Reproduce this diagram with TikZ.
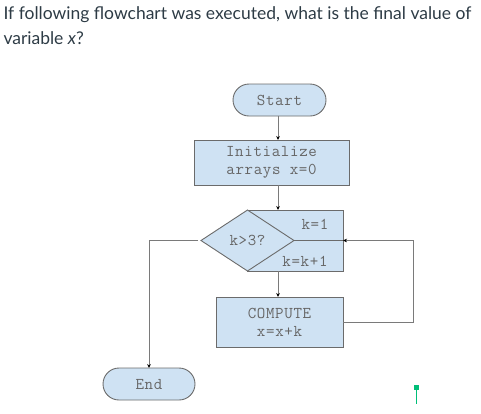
\documentclass[tikz,border=0pt]{standalone}
\usepackage{fontspec}
\setmainfont{Lato}
\newfontfamily\monof{Latin Modern Mono}[LetterSpace=4]
\usetikzlibrary{shapes.geometric,arrows.meta,calc}
\definecolor{boxfill}{HTML}{CFE2F3}
\definecolor{boxline}{HTML}{6B6B6B}
\definecolor{txtgray}{HTML}{666666}
\definecolor{linegray}{HTML}{7A7A7A}
\definecolor{titlecol}{HTML}{2D3B45}
\definecolor{marker}{RGB}{0,190,120}
\begin{document}
\begin{tikzpicture}[x=1pt,y=-1pt,
  every node/.style={inner sep=0pt,outer sep=0pt},
  fc/.style={font=\monof\fontsize{16.5}{18}\selectfont, text=txtgray, align=center},
  boxstyle/.style={fc, draw=boxline, fill=boxfill, line width=0.9pt},
  pill/.style={boxstyle, rounded corners=16pt, minimum width=93pt, minimum height=32pt},
  conn/.style={draw=linegray, line width=0.9pt},
  arr/.style={conn, -{Stealth[length=4pt,width=3.6pt,black]}}
]
\useasboundingbox (0,0) rectangle (481,413);
% title
\node[anchor=base west, font=\fontsize{17.5}{20}\selectfont, text=titlecol] (t1) at (3.5,19.5)
  {If following flowchart was executed, what is the final value of};
\node[anchor=base west, font=\fontsize{17.5}{20}\selectfont, text=titlecol] (t2) at (3.5,44.5)
  {variable \textit{x}?};
\coordinate (spine) at (278,0);
% nodes
\node[pill] (start) at (279.5,100) {Start};
\node[boxstyle, minimum width=155pt, minimum height=45pt] (init) at (271.5,162.5) {Initialize\\arrays x=0};
\node[fill=boxfill, minimum width=96pt, minimum height=61pt] (loopbox) at (295,240.5) {};
\draw[draw=boxline, line width=0.9pt] (loopbox.north west) -- (loopbox.north east) -- (loopbox.south east) -- (loopbox.south west);
\node[boxstyle, diamond, minimum width=93pt, minimum height=61pt] (cond) at (247.5,240.5) {k>3?};
\node[fc] (kinit) at (315,224.5) {k=1};
\node[fc] (kinc) at (305,261) {k=k+1};
\node[boxstyle, minimum width=127pt, minimum height=50pt] (compute) at (279.5,322) {COMPUTE\\x=x+k};
\node[pill, minimum width=92pt] (end) at (149,384) {End};
% connectors
\draw[arr] (start.south -| spine) -- (init.north -| spine);
\draw[arr] (init.south -| spine) -- (loopbox.north -| spine);
\draw[arr] (loopbox.south -| spine) -- (compute.north -| spine);
\draw[draw=boxline, line width=0.9pt] (cond.east) -- (loopbox.east);
\draw[arr] (compute.east) -- ++(70,0) |- (loopbox.east);
\draw[arr, shorten <=3pt] (cond.west) -| (end.north);
% marker
\fill[marker] (414,385) rectangle (419,389.5);
\draw[marker, line width=1.6pt] (416.5,389) -- (416.5,404);
\end{tikzpicture}
\end{document}
